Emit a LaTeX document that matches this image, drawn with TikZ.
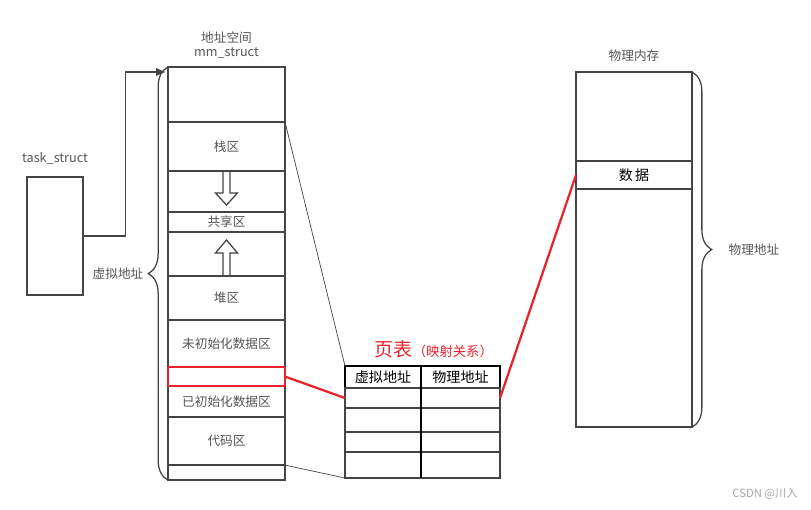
\documentclass[tikz,border=0pt]{standalone}
\usepackage{fontspec}
\setmainfont{Noto Sans CJK SC}
\usetikzlibrary{arrows.meta,positioning,decorations.pathreplacing}
\definecolor{edge}{HTML}{444444}
\definecolor{txt}{HTML}{555555}
\definecolor{hot}{HTML}{E8232B}

\begin{document}
\begin{tikzpicture}[
  x=0.025cm, y=-0.025cm, >={Latex[length=7pt,width=6pt]},
  seg/.style={draw=edge, line width=0.9pt, minimum width=2.925cm, inner sep=0pt, outer sep=0pt, font=\fontsize{9}{10}\selectfont, text=txt},
  cell/.style={draw=edge, line width=0.8pt, inner sep=0pt, outer sep=0pt},
  head/.style={draw=black, line width=1.2pt, minimum height=0.55cm, inner sep=0pt, outer sep=0pt, font=\fontsize{10}{11}\selectfont},
  lbl/.style={text=txt, font=\fontsize{9}{10.6}\selectfont, inner sep=0pt},
  hollow/.style={draw=edge, line width=0.9pt},
  brc/.style={draw=edge, line width=0.9pt, decorate, decoration={brace, amplitude=14pt}},
  map/.style={draw=hot, line width=1.6pt}
]
\useasboundingbox (0,0) rectangle (811,510);
\node[seg, anchor=north, minimum height=1.375cm] (top) at (226.5,67) {};
\node[seg, below=0pt of top, minimum height=1.225cm] (stack) {栈区};
\node[seg, below=0pt of stack, minimum height=1.025cm] (gapa) {};
\node[seg, below=0pt of gapa, minimum height=0.5cm] (shared) {共享区};
\node[seg, below=0pt of shared, minimum height=1.1cm] (gapb) {};
\node[seg, below=0pt of gapb, minimum height=1.1cm] (heap) {堆区};
\node[seg, below=0pt of heap, minimum height=1.175cm] (bss) {未初始化数据区};
\node[seg, below=0pt of bss, minimum height=0.475cm] (rbox) {};
\node[seg, below=0pt of rbox, minimum height=0.775cm] (init) {已初始化数据区};
\node[seg, below=0pt of init, minimum height=1.2cm] (code) {代码区};
\node[seg, below=0pt of code, minimum height=0.375cm] (bot) {};
\draw[map] (rbox.north west) rectangle (rbox.south east);
\node[lbl, align=center, above=0.2cm of top] (aspace) {地址空间\\mm\_struct};
\draw[hollow] (223,171) -- (223,193) -- (215.5,193) -- (226.5,205) -- (237.5,193) -- (230,193) -- (230,171);
\draw[hollow] (223,276) -- (223,253) -- (215.5,253) -- (226.5,240) -- (237.5,253) -- (230,253) -- (230,276);
\draw[brc] (bot.south west) -- (top.north west) node[lbl, midway, left=0.6cm] (vaddr) {虚拟地址};

\node[draw=edge, line width=0.9pt, minimum width=1.4cm, minimum height=2.95cm, inner sep=0pt] (task) at (55,236) {};
\node[lbl, above=0.3cm of task] (tasklbl) {task\_struct};
\coordinate (atop) at (166,72);
\draw[->, draw=edge, line width=1pt] (task.east) -- ++(42,0) |- (atop);

\node[anchor=base west, text=hot, font=\fontsize{13.5}{15}\selectfont, inner sep=0pt] (pt) at (374,357) {页表};
\node[anchor=base west, text=hot, font=\fontsize{9.5}{10}\selectfont, inner sep=0pt] (ptsub) at (pt.base east) {（映射关系）};
\node[head, minimum width=1.9cm, anchor=north west] (vh) at (345,366) {虚拟地址};
\node[head, minimum width=1.975cm, right=0pt of vh] (ph) {物理地址};
\foreach \h [count=\i, remember=\i as \j (initially h)] in {0.5,0.6,0.5,0.65} {
  \node[cell, minimum width=1.9cm, minimum height=\h cm, below=0pt of v\j] (v\i) {};
  \node[cell, minimum width=1.975cm, minimum height=\h cm, below=0pt of p\j] (p\i) {};
}
\draw[line width=1.2pt] (vh.north east) -- (v4.south east);

\node[seg, anchor=north west, minimum width=2.9cm, minimum height=8.875cm] (mem) at (576,72) {};
\node[seg, anchor=north west, minimum width=2.9cm, minimum height=0.7cm, text=black, font=\fontsize{10}{11}\selectfont] (data) at (576,161) {数\,据};
\node[lbl, above=0.25cm of mem] (memlbl) {物理内存};
\draw[brc] (mem.north east) -- (mem.south east) node[lbl, midway, right=0.9cm] (paddr) {物理地址};

\draw[draw=edge, line width=0.5pt] (stack.north east) -- (vh.north west);
\draw[draw=edge, line width=0.5pt] (code.south east) -- (v4.south west);
\draw[map] (rbox.east) -- (v1.west);
\draw[map] (p1.east) -- (data.west);

\node[text=gray!70, font=\fontsize{8}{9}\selectfont, inner sep=0pt] (mark) at (765,494) {CSDN @川入};
\end{tikzpicture}
\end{document}
